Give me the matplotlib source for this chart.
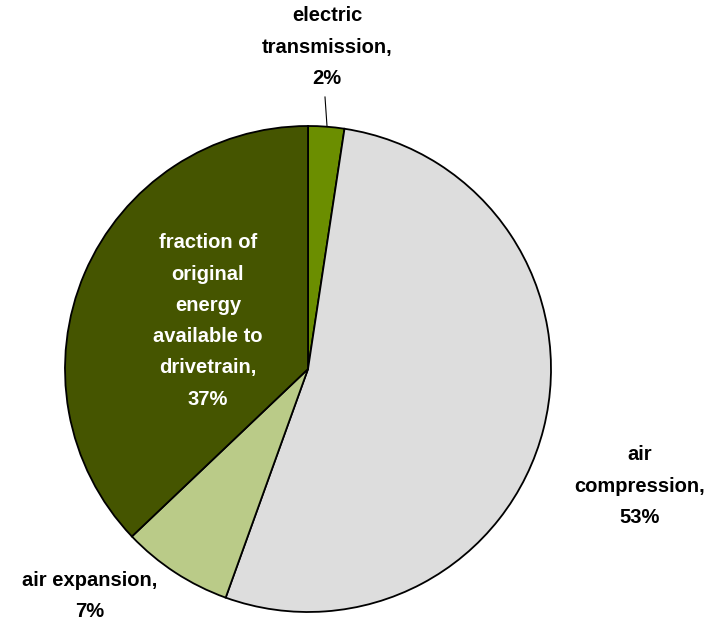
import matplotlib.pyplot as plt

# -------------------------
# Data
# -------------------------
labels = ["electric\ntransmission,\n2%", "air\ncompression,\n53%",
          "air expansion,\n7%",
          "fraction of\noriginal\nenergy\navailable to\ndrivetrain,\n37%"]
shares = [2.4, 53.1, 7.4, 37.1]
colors = ["#6B8E00", "#DDDDDD", "#BACB88", "#455500"]

plt.rcParams["font.family"] = ["Liberation Sans", "DejaVu Sans"]

# -------------------------
# Plot
# -------------------------
W, H = 714, 626
fig = plt.figure(figsize=(W / 100, H / 100), dpi=100)
ax = fig.add_axes([0, 0, 1, 1])

cx, cy, r = 308, H - 369, 243
ax.pie(shares, colors=colors, startangle=90, counterclock=False,
       center=(cx, cy), radius=r, frame=True,
       wedgeprops=dict(edgecolor="black", linewidth=1.3))
ax.set_xlim(0, W)
ax.set_ylim(0, H)
ax.set_aspect("equal")
ax.axis("off")

# label positions (pixels from top-left)
pos = [(327, 47), (640, 486), (90, 596), (208, 321)]
txt_colors = ["black", "black", "black", "white"]
for lab, (x, y), c in zip(labels, pos, txt_colors):
    ax.text(x, H - y, lab, ha="center", va="center", fontsize=14.5,
            fontweight="bold", color=c, linespacing=1.82)

# leader line for small slice
ax.plot([325, 327], [H - 97, H - 126], color="black", lw=0.8)

plt.savefig("out.png", dpi=100)
